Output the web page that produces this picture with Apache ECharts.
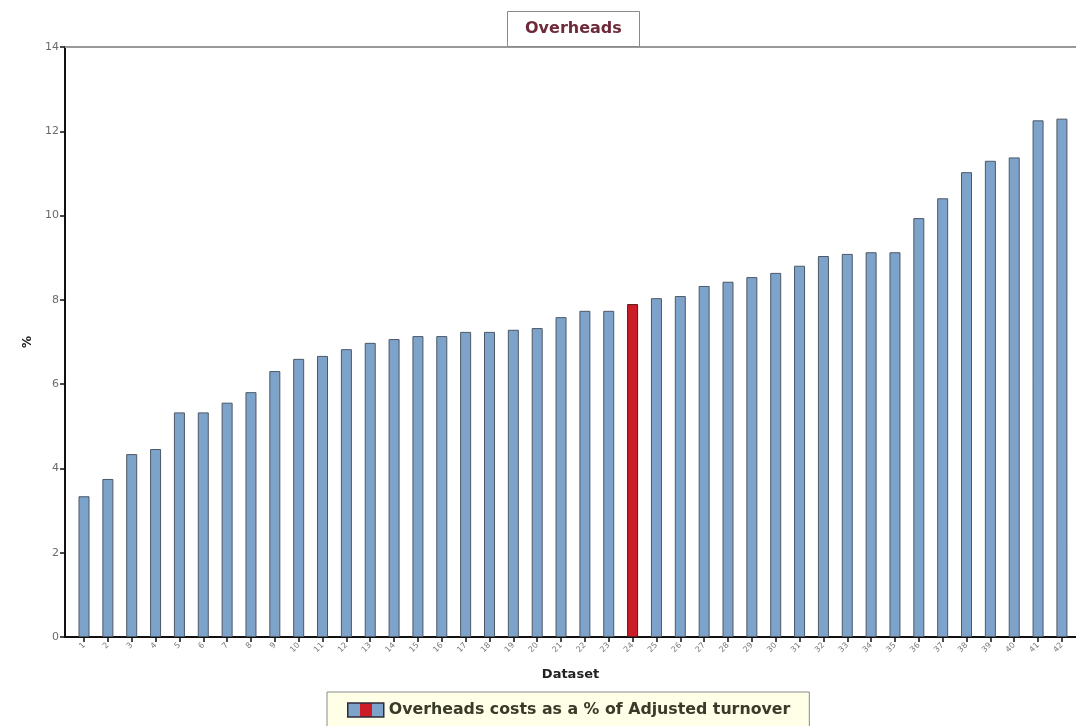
<!DOCTYPE html>
<html>
<head>
<meta charset="utf-8">
<title>Overheads</title>
<script src="https://cdn.jsdelivr.net/npm/echarts@6/dist/echarts.min.js"></script>
<style>
  html, body { margin: 0; padding: 0; background: #ffffff; }
  #chart { width: 1076px; height: 726px; }
</style>
</head>
<body>
<div id="chart"></div>
<script>
// Dataset labels along the x axis
const categories = ['1','2','3','4','5','6','7','8','9','10','11','12','13','14','15','16','17','18','19','20','21',
  '22','23','24','25','26','27','28','29','30','31','32','33','34','35','36','37','38','39','40','41','42'];

// Overheads costs as a % of adjusted turnover, one per dataset
const overheadPct = [3.34, 3.75, 4.34, 4.46, 5.33, 5.33, 5.56, 5.81, 6.31, 6.60, 6.67, 6.83, 6.98, 7.07,
  7.14, 7.14, 7.24, 7.24, 7.29, 7.33, 7.59, 7.74, 7.74, 7.90, 8.04, 8.09, 8.33, 8.43, 8.54, 8.64,
  8.81, 9.04, 9.09, 9.13, 9.13, 9.94, 10.41, 11.03, 11.30, 11.38, 12.26, 12.30];

// The dataset shown in red
const highlighted = '24';

// Y axis ticks
const yTicks = [0, 2, 4, 6, 8, 10, 12, 14];

const BLUE = '#7ea3cb';
const RED = '#cc1c28';
const FONT = 'DejaVu Sans, Verdana, sans-serif';

// Bars sit on a numeric x axis (dataset n at x = n) so the plot can leave a small gap after the y axis
const positions = categories.map((c, i) => i + 1);
const xMin = 0.203;
const xMax = 42.59;

const barData = categories.map((c, i) => ({
  value: [positions[i], overheadPct[i]],
  itemStyle: c === highlighted
    ? { color: RED, borderColor: '#5a1a1e' }
    : { color: BLUE, borderColor: '#4b5866' }
}));

const chart = echarts.init(document.getElementById('chart'), null, { renderer: 'canvas' });

chart.setOption({
  backgroundColor: '#ffffff',
  animation: false,
  title: {
    text: 'Overheads',
    left: 507,
    top: 11,
    padding: [10, 18],
    borderColor: '#8a8a8a',
    borderWidth: 1,
    backgroundColor: '#ffffff',
    textStyle: { fontFamily: FONT, fontSize: 16, fontWeight: 'bold', color: '#6e2a3a' }
  },
  legend: {
    left: 327,
    top: 692,
    padding: [10, 19, 10, 20],
    backgroundColor: '#ffffe8',
    borderColor: '#8a8a8a',
    borderWidth: 1,
    itemWidth: 36,
    itemHeight: 14,
    itemGap: 10,
    icon: 'rect',
    selectedMode: false,
    itemStyle: {
      color: {
        type: 'linear', x: 0, y: 0, x2: 1, y2: 0,
        colorStops: [
          { offset: 0, color: BLUE }, { offset: 0.34, color: BLUE },
          { offset: 0.34, color: RED }, { offset: 0.66, color: RED },
          { offset: 0.66, color: BLUE }, { offset: 1, color: BLUE }
        ]
      },
      borderColor: '#2b2b3a',
      borderWidth: 1.5
    },
    textStyle: { fontFamily: FONT, fontSize: 15.8, fontWeight: 'bold', color: '#3a3a2a' },
    data: ['Overheads costs as a % of Adjusted turnover']
  },
  grid: { left: 65, right: 0, top: 47, bottom: 89, containLabel: false },
  xAxis: [
    {
      type: 'value',
      position: 'bottom',
      min: xMin,
      max: xMax,
      name: 'Dataset',
      nameLocation: 'middle',
      nameGap: 31,
      nameTextStyle: { fontFamily: FONT, fontSize: 13, fontWeight: 'bold', color: '#222222' },
      splitLine: { show: false },
      axisLine: { show: true, onZero: false, lineStyle: { color: '#111111', width: 2 } },
      axisTick: {
        show: true, length: 5, customValues: positions,
        lineStyle: { color: '#111111', width: 1.5 }
      },
      axisLabel: {
        customValues: positions,
        rotate: 45,
        margin: 7,
        fontFamily: FONT,
        fontSize: 8,
        color: '#7a7a7a',
        formatter: v => categories[v - 1]
      }
    },
    {
      type: 'value',
      position: 'top',
      min: xMin,
      max: xMax,
      splitLine: { show: false },
      axisLine: { show: true, onZero: false, lineStyle: { color: '#999999', width: 2 } },
      axisTick: { show: false },
      axisLabel: { show: false }
    }
  ],
  yAxis: {
    type: 'value',
    min: yTicks[0],
    max: yTicks[yTicks.length - 1],
    interval: 2,
    name: '%',
    nameLocation: 'middle',
    nameGap: 27,
    nameRotate: 90,
    nameTextStyle: { fontFamily: FONT, fontSize: 12, fontWeight: 'bold', color: '#222222' },
    splitLine: { show: false },
    axisLine: { show: true, lineStyle: { color: '#111111', width: 2 } },
    axisTick: { show: true, length: 5, lineStyle: { color: '#111111', width: 1.5 } },
    axisLabel: { fontFamily: FONT, fontSize: 11, color: '#6a6a6a', margin: 6 }
  },
  series: [
    {
      name: 'Overheads costs as a % of Adjusted turnover',
      type: 'bar',
      xAxisIndex: 0,
      barWidth: 11,
      itemStyle: { color: BLUE, borderColor: '#4b5866', borderWidth: 1 },
      data: barData
    }
  ]
});
</script>
</body>
</html>
